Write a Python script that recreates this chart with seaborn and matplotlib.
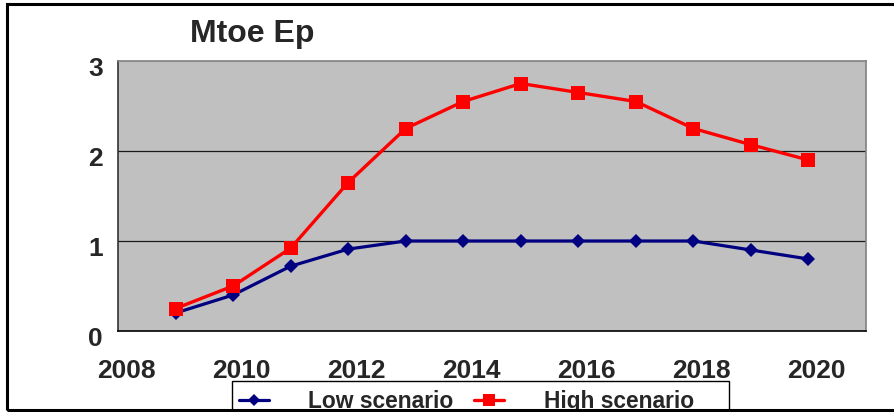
import pandas as pd
import numpy as np
import matplotlib
matplotlib.use('Agg')
import matplotlib.pyplot as plt
import matplotlib.patches as mpatches
import matplotlib.transforms as mtransforms
from matplotlib.lines import Line2D
import seaborn as sns

years = [2009, 2010, 2011, 2012, 2013, 2014, 2015, 2016, 2017, 2018, 2019, 2020]
low_scenario = [0.20, 0.40, 0.72, 0.91, 1.00, 1.00, 1.00, 1.00, 1.00, 1.00, 0.90, 0.80]
high_scenario = [0.25, 0.50, 0.92, 1.65, 2.25, 2.55, 2.75, 2.65, 2.55, 2.25, 2.07, 1.90]
series_names = ['Low scenario', 'High scenario']
y_ticks = [0, 1, 2, 3]
x_ticks = [2008, 2010, 2012, 2014, 2016, 2018, 2020]

sns.set_style('white')
plt.rcParams['font.family'] = ['Liberation Sans', 'DejaVu Sans']

df = pd.DataFrame({'year': years * 2,
                   'value': low_scenario + high_scenario,
                   'scenario': [series_names[0]] * len(years) + [series_names[1]] * len(years)})

W, H = 894, 412
fig = plt.figure(figsize=(W / 100, H / 100), dpi=100)
ax = fig.add_axes([118 / W, 1 - 331 / H, (866 - 118) / W, (331 - 61) / H])
ax.set_facecolor('#C0C0C0')

colors = {'Low scenario': '#000080', 'High scenario': '#FF0000'}
markers = {'Low scenario': 'D', 'High scenario': 's'}
sizes = {'Low scenario': 7.5, 'High scenario': 10}
widths = {'Low scenario': 2.3, 'High scenario': 2.4}
for name in series_names:
    sub = df[df['scenario'] == name]
    sns.lineplot(data=sub, x='year', y='value', ax=ax, color=colors[name],
                 marker=markers[name], markersize=sizes[name], linewidth=widths[name],
                 markeredgewidth=0, legend=False, zorder=3)

ax.set_xlim(2008, 2021)
ax.set_ylim(0, 3)
ax.set_xticks(x_ticks)
ax.set_yticks(y_ticks)
ax.set_xticklabels([str(t) for t in x_ticks], fontsize=19, fontweight='bold')
ax.set_yticklabels([str(t) for t in y_ticks], fontsize=19, fontweight='bold')
ax.set_xlabel('')
ax.set_ylabel('')
for yv in [1, 2]:
    ax.axhline(yv, color='#1a1a1a', linewidth=0.9, zorder=1)
ax.tick_params(axis='both', direction='out', length=6, width=1, color='black')
ax.tick_params(axis='x', pad=14)
ax.tick_params(axis='y', pad=5)
# excel-style offsets of tick labels
for lab in ax.get_xticklabels():
    lab.set_transform(lab.get_transform() + mtransforms.ScaledTranslation(8 / 100, 0, fig.dpi_scale_trans))
for lab in ax.get_yticklabels():
    lab.set_transform(lab.get_transform() + mtransforms.ScaledTranslation(0, -5 / 100, fig.dpi_scale_trans))
ax.spines['top'].set_color('#808080')
ax.spines['right'].set_color('#808080')
ax.spines['left'].set_color('#333333')
ax.spines['bottom'].set_color('black')
for s in ax.spines.values():
    s.set_linewidth(1.2)

fig.text(190 / W, 1 - 42 / H, 'Mtoe Ep', fontsize=23, fontweight='bold', ha='left', va='baseline')

handles = [Line2D([], [], color=colors[n], marker=markers[n], markersize=sizes[n] * 0.8,
                  linewidth=widths[n], markeredgewidth=0) for n in series_names]
leg = fig.legend(handles, series_names, loc='upper left', bbox_to_anchor=(239 / W, 1 - 390 / H),
                 ncol=2, frameon=False, prop={'size': 16.4, 'weight': 'bold'},
                 handlelength=1.3, handletextpad=1.75, columnspacing=0.9,
                 borderpad=0.0, borderaxespad=0)

legbox = mpatches.Rectangle((232 / W, 1 - 416 / H), (729 - 232) / W, (416 - 381) / H,
                            transform=fig.transFigure, facecolor='white', edgecolor='black',
                            linewidth=1.0, clip_on=False, zorder=1)
fig.patches.append(legbox)

frame = mpatches.Rectangle((7 / W, 1 - 410 / H), 1.0, (410 - 4) / H, transform=fig.transFigure,
                           fill=False, edgecolor='black', linewidth=2.2, clip_on=False, zorder=10)
fig.patches.append(frame)

fig.savefig('out.png', dpi=100)
